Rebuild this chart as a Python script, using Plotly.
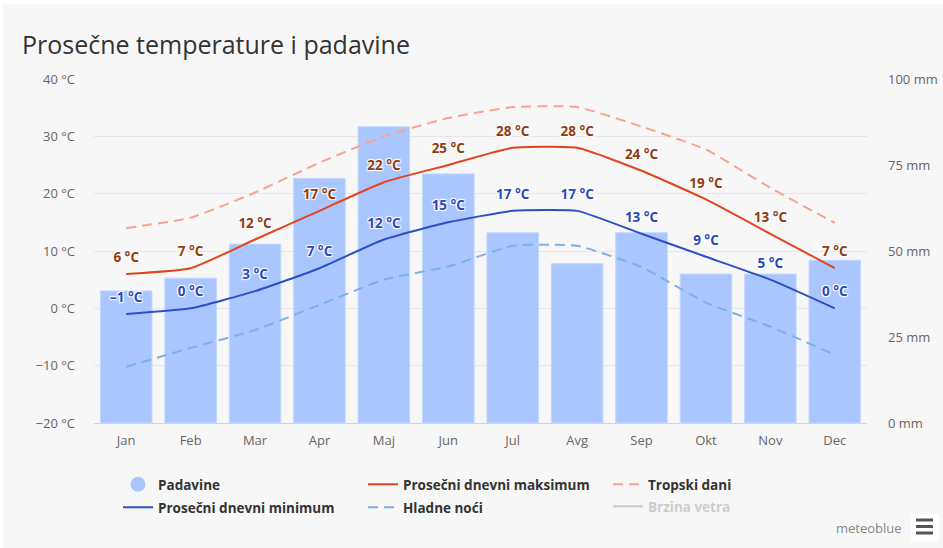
import plotly.graph_objects as go

months = ["Jan", "Feb", "Mar", "Apr", "Maj", "Jun", "Jul", "Avg", "Sep", "Okt", "Nov", "Dec"]
precip_mm = [38.4, 42.1, 52.0, 71.1, 86.1, 72.4, 55.3, 46.3, 55.3, 43.3, 43.3, 47.3]
temp_max = [6, 7, 12, 17, 22, 25, 28, 28, 24, 19, 13, 7]
temp_min = [-1, 0, 3, 7, 12, 15, 17, 17, 13, 9, 5, 0]
hot_days = [14.0, 15.8, 20.2, 25.4, 30.0, 33.2, 35.1, 35.1, 31.7, 27.7, 21.0, 14.9]
cold_nights = [-10.2, -6.9, -3.8, 0.6, 5.0, 7.3, 10.9, 10.9, 7.2, 1.0, -3.2, -8.1]
wind_speed = [None] * 12

W, H = 943, 548
ML, MR, MT, MB = 94, 76, 79, 125
PW, PH = W - ML - MR, H - MT - MB


def px(x):
    return (x - ML) / PW


def py(y):
    return (H - MB - y) / PH


def fmt(v):
    return ("–" + str(-v) if v < 0 else str(v)) + " °C"


FONT = "Open Sans"
shadow = "1px 1px 1px #fff, -1px -1px 1px #fff, 1px -1px 1px #fff, -1px 1px 1px #fff"
SMOOTH = 0.45

fig = go.Figure()

fig.add_trace(go.Bar(
    x=months, y=precip_mm, yaxis="y", name="Padavine", showlegend=False,
    marker=dict(color="#a9c7fe", line=dict(color="#c3d7ff", width=1)),
    hoverinfo="y",
))
fig.add_trace(go.Scatter(
    x=[None], y=[None], yaxis="y", mode="markers", name="Padavine",
    marker=dict(symbol="circle", size=15, color="#a9c7fe"), legend="legend",
))
fig.add_trace(go.Scatter(
    x=months, y=temp_max, yaxis="y2", mode="lines", name="Prosečni dnevni maksimum",
    line=dict(color="#e2441f", width=2, shape="spline", smoothing=SMOOTH), legend="legend",
))
fig.add_trace(go.Scatter(
    x=months, y=hot_days, yaxis="y2", mode="lines", name="Tropski dani",
    line=dict(color="#f8a48f", width=2, dash="10px,6px", shape="spline", smoothing=SMOOTH),
    legend="legend",
))
fig.add_trace(go.Scatter(
    x=months, y=temp_min, yaxis="y2", mode="lines", name="Prosečni dnevni minimum",
    line=dict(color="#2d4fc6", width=2, shape="spline", smoothing=SMOOTH), legend="legend3",
))
fig.add_trace(go.Scatter(
    x=months, y=cold_nights, yaxis="y2", mode="lines", name="Hladne noći",
    line=dict(color="#7db0e8", width=2, dash="10px,6px", shape="spline", smoothing=SMOOTH),
    legend="legend3",
))
fig.add_trace(go.Scatter(
    x=months, y=wind_speed, yaxis="y2", mode="lines", name="Brzina vetra",
    line=dict(color="#cccccc", width=2), legend="legend2",
))
# data labels
fig.add_trace(go.Scatter(
    x=months, y=temp_max, yaxis="y2", mode="markers+text", showlegend=False,
    text=[fmt(v) for v in temp_max], textposition="top center",
    marker=dict(size=12, color="rgba(0,0,0,0)"),
    textfont=dict(family=FONT, size=13.5, color="#923c0e", weight="bold", shadow=shadow),
    hoverinfo="skip",
))
fig.add_trace(go.Scatter(
    x=months, y=temp_min, yaxis="y2", mode="markers+text", showlegend=False,
    text=[fmt(v) for v in temp_min], textposition="top center",
    marker=dict(size=12, color="rgba(0,0,0,0)"),
    textfont=dict(family=FONT, size=13.5, color="#2b48bd", weight="bold", shadow=shadow),
    hoverinfo="skip",
))

shapes = [
    dict(type="rect", xref="paper", yref="paper", x0=px(3), x1=px(W), y0=py(H), y1=py(4),
         fillcolor="#f7f7f7", line=dict(width=0), layer="below"),
    dict(type="rect", xref="paper", yref="paper", x0=px(911), x1=px(939), y0=py(541), y1=py(514),
         fillcolor="#ffffff", line=dict(width=0), layer="above"),
]
for yy in (520, 526.5, 533):
    shapes.append(dict(type="line", xref="paper", yref="paper", x0=px(916), x1=px(933),
                       y0=py(yy), y1=py(yy), line=dict(color="#555555", width=3)))

legend_font = dict(family=FONT, size=13.5, color="#333333", weight="bold")

fig.update_layout(
    width=W, height=H,
    margin=dict(l=ML, r=MR, t=MT, b=MB, autoexpand=False),
    paper_bgcolor="#ffffff", plot_bgcolor="rgba(0,0,0,0)",
    font=dict(family=FONT, size=13, color="#666666"),
    title=dict(text="Prosečne temperature i padavine", x=22 / W, xref="container", xanchor="left",
               y=1 - 45 / H, yref="container", yanchor="middle",
               font=dict(family=FONT, size=25, color="#333333")),
    bargap=0.2,
    xaxis=dict(type="category", showgrid=False, showline=True, linecolor="#ccd6eb", linewidth=1,
               ticks="", tickfont=dict(size=13, color="#666666"), ticklabelstandoff=5,
               range=[-0.5, 11.5], automargin=False),
    yaxis=dict(side="right", range=[0, 100], tick0=0, dtick=25, ticksuffix=" mm",
               showgrid=False, zeroline=False, showline=False, ticklabelstandoff=20,
               tickfont=dict(size=13, color="#666666"), automargin=False),
    yaxis2=dict(side="left", overlaying="y", range=[-20, 40], dtick=10, ticksuffix=" °C",
                showgrid=True, gridcolor="#e6e6e6", gridwidth=1, zeroline=False, showline=False,
                ticklabelstandoff=18, tickfont=dict(size=13, color="#666666"), automargin=False),
    legend=dict(orientation="h", x=px(118), xanchor="left", y=py(469), yanchor="top",
                entrywidth=200, bgcolor="rgba(0,0,0,0)", font=legend_font, traceorder="normal"),
    legend3=dict(orientation="h", x=px(118), xanchor="left", y=py(492), yanchor="top",
                 entrywidth=200, bgcolor="rgba(0,0,0,0)", font=legend_font, traceorder="normal"),
    legend2=dict(orientation="h", x=px(608), xanchor="left", y=py(491), yanchor="top",
                 bgcolor="rgba(0,0,0,0)",
                 font=dict(family=FONT, size=13.5, color="#cccccc", weight="bold")),
    shapes=shapes,
    annotations=[dict(text="meteoblue", xref="paper", yref="paper", x=px(904), y=py(528),
                      xanchor="right", yanchor="middle", showarrow=False,
                      font=dict(family=FONT, size=13, color="#888888"))],
    showlegend=True,
)

fig.write_html("out.html", config={"displayModeBar": False},
               post_script="document.body.style.margin='0px';")
